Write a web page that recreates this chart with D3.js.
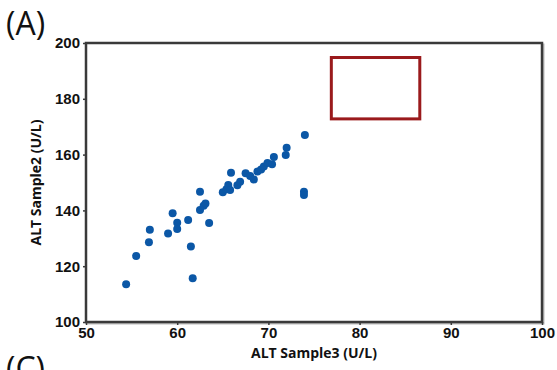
<!DOCTYPE html>
<html>
<head>
<meta charset="utf-8">
<script src="https://cdn.jsdelivr.net/npm/d3@7"></script>
<style>
  body { margin: 0; background: #fff; }
  svg { display: block; font-family: "Open Sans", "DejaVu Sans", sans-serif; }
</style>
</head>
<body>
<div id="chart"></div>
<script>
// ALT values
const sample3 = [54.4, 55.5, 56.9, 57.0, 59.0, 59.5, 60.0, 60.0, 61.2, 61.5,
  61.7, 62.5, 62.5, 62.9, 63.1, 63.5, 65.0, 65.4, 65.6, 65.8,
  65.9, 66.6, 66.9, 67.5, 68.0, 68.4, 68.8, 69.2, 69.5, 69.9,
  70.4, 70.6, 71.9, 72.0, 74.0, 73.9, 73.9];
const sample2 = [113.5, 123.7, 128.6, 133.1, 131.7, 139.0, 135.6, 133.3, 136.6, 127.1,
  115.7, 146.7, 140.1, 141.7, 142.5, 135.5, 146.5, 147.6, 149.1, 147.3,
  153.5, 149.0, 150.3, 153.3, 152.3, 151.1, 153.9, 154.7, 155.7, 157.0,
  156.5, 159.1, 159.9, 162.5, 167.0, 146.7, 145.5];

const xTicks = [50, 60, 70, 80, 90, 100];
const yTicks = [100, 120, 140, 160, 180, 200];
const boxX = [76.9, 86.6];
const boxY = [172.8, 194.8];

const width = 557, height = 370;
const margin = {top: 43, right: 15, bottom: 48, left: 86};

const svg = d3.select("#chart")
  .append("svg")
  .attr("width", width)
  .attr("height", height);

const x = d3.scaleLinear()
  .domain([50, 100])
  .range([margin.left, width - margin.right]);

const y = d3.scaleLinear()
  .domain([100, 200])
  .range([height - margin.bottom, margin.top]);

// frame with a light shadow
svg.append("rect")
  .attr("x", x(50) + 1.5)
  .attr("y", y(200) + 1.5)
  .attr("width", x(100) - x(50))
  .attr("height", y(100) - y(200))
  .attr("fill", "none")
  .attr("stroke", "#bbb")
  .attr("stroke-width", 2);

svg.append("rect")
  .attr("x", x(50))
  .attr("y", y(200))
  .attr("width", x(100) - x(50))
  .attr("height", y(100) - y(200))
  .attr("fill", "#fff")
  .attr("stroke", "#3a3a3a")
  .attr("stroke-width", 2.5);

const xAxis = svg.append("g")
  .attr("transform", `translate(0,${y(100)})`)
  .call(d3.axisBottom(x).tickValues(xTicks).tickSize(3).tickPadding(2));

const yAxis = svg.append("g")
  .attr("transform", `translate(${x(50)},0)`)
  .call(d3.axisLeft(y).tickValues(yTicks).tickSize(3).tickPadding(3));

[xAxis, yAxis].forEach(g => {
  g.select(".domain").remove();
  g.selectAll(".tick line").attr("stroke", "#3a3a3a").attr("stroke-width", 1.5);
  g.selectAll("text")
    .attr("fill", "#111")
    .style("font-size", "15px")
    .style("font-weight", "bold");
});

// points
svg.append("g")
  .selectAll("circle")
  .data(sample3.map((d, i) => [d, sample2[i]]))
  .join("circle")
  .attr("cx", d => x(d[0]))
  .attr("cy", d => y(d[1]))
  .attr("r", 4)
  .attr("fill", "#0b57a6");

// highlight box
svg.append("rect")
  .attr("x", x(boxX[0]))
  .attr("y", y(boxY[1]))
  .attr("width", x(boxX[1]) - x(boxX[0]))
  .attr("height", y(boxY[0]) - y(boxY[1]))
  .attr("fill", "none")
  .attr("stroke", "#9a1a1c")
  .attr("stroke-width", 3);

svg.append("text")
  .attr("x", (x(50) + x(100)) / 2)
  .attr("y", 358)
  .attr("text-anchor", "middle")
  .attr("fill", "#111")
  .style("font-size", "14px")
  .style("font-weight", "bold")
  .text("ALT Sample3 (U/L)");

svg.append("text")
  .attr("transform", `translate(41,${(y(100) + y(200)) / 2}) rotate(-90)`)
  .attr("text-anchor", "middle")
  .attr("fill", "#111")
  .style("font-size", "14px")
  .style("font-weight", "bold")
  .text("ALT Sample2 (U/L)");

svg.append("text")
  .attr("x", 6)
  .attr("y", 35)
  .attr("fill", "#111")
  .style("font-size", "32px")
  .text("(A)");

svg.append("text")
  .attr("x", 6)
  .attr("y", 380)
  .attr("fill", "#111")
  .style("font-size", "32px")
  .text("(C)");
</script>
</body>
</html>
